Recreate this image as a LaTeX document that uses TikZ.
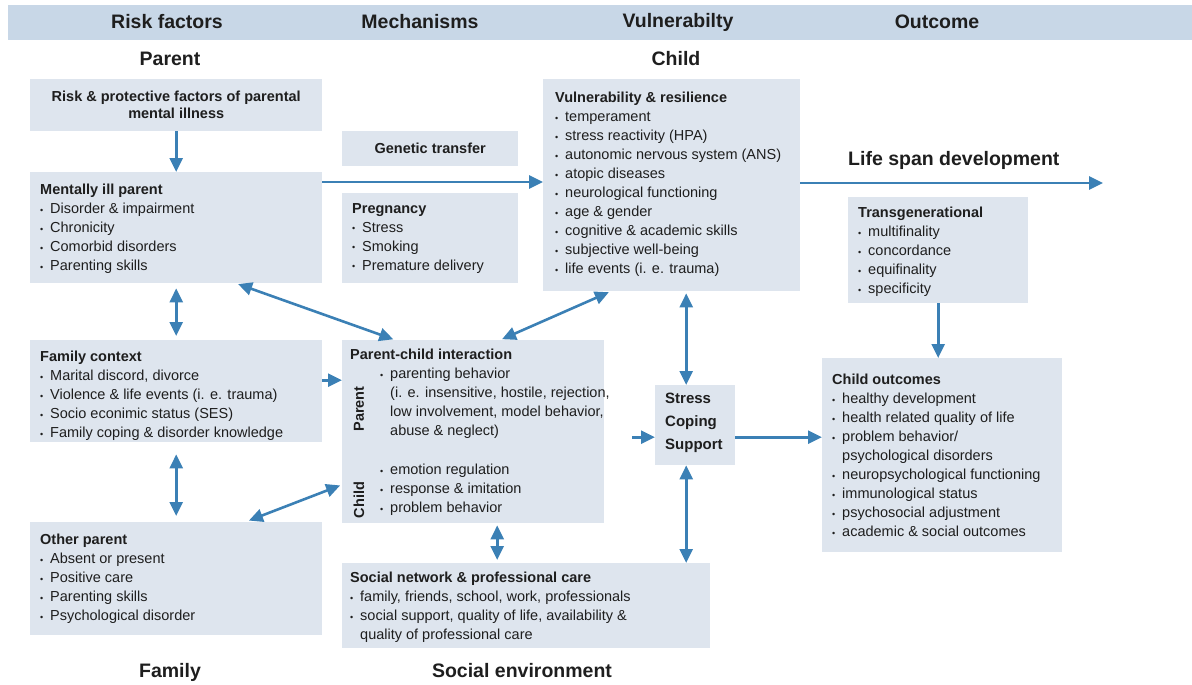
\documentclass[tikz,border=0pt]{standalone}
\usepackage{fontspec}
\setmainfont{Liberation Sans}
\usetikzlibrary{arrows.meta,calc}
\definecolor{hdrbar}{HTML}{C8D7E7}
\definecolor{boxfill}{HTML}{DEE5EE}
\definecolor{arrc}{HTML}{3B80B5}
\definecolor{txtc}{HTML}{1E1E1E}
\newcommand{\bul}{\makebox[10pt][l]{\raisebox{0.5pt}{\fontsize{9}{9}\selectfont •}}}
\newcommand{\ind}{\hspace*{10pt}}
\tikzset{
  box/.style={fill=boxfill, draw=none, inner sep=0pt, anchor=north west},
  txt/.style={anchor=north west, inner sep=0pt, align=left, text=txtc, font=\fontsize{14.5}{19}\selectfont},
  hdr/.style={font=\bfseries\fontsize{19.5}{22}\selectfont, text=txtc, inner sep=0pt},
  arr/.style={draw=arrc, line width=2.6pt, -{Triangle[length=14pt,width=13pt]}},
  darr/.style={draw=arrc, line width=2.6pt, {Triangle[length=14pt,width=13pt]}-{Triangle[length=14pt,width=13pt]}},
}
\begin{document}
\begin{tikzpicture}[x=1pt,y=-1pt]
\path[use as bounding box] (0,0) rectangle (1192,685);
% header bar
\fill[hdrbar] (8,5) rectangle (1192,40);
\node[hdr] (h1) at (167,22) {Risk factors};
\node[hdr] (h2) at (420,22) {Mechanisms};
\node[hdr] (h3) at (678,22) {Vulnerabilty};
\node[hdr] (h4) at (937,22) {Outcome};
\node[hdr] (sParent) at (170,59) {Parent};
\node[hdr] (sChild) at (676,59) {Child};
\node[hdr,anchor=base] (sFamily) at (170,677) {Family};
\node[hdr,anchor=base] (sSocial) at (522,677) {Social environment};

% boxes
\node[box, minimum width=292pt, minimum height=52pt] (risk) at (30,79) {};
\node[box, minimum width=176pt, minimum height=35pt] (gen) at (342,131) {};
\node[box, minimum width=292pt, minimum height=111pt] (mip) at (30,172) {};
\node[box, minimum width=176pt, minimum height=90pt] (preg) at (342,193) {};
\node[box, minimum width=257pt, minimum height=212pt] (vul) at (543,79) {};
\node[box, minimum width=180pt, minimum height=106pt] (trans) at (848,197) {};
\node[box, minimum width=292pt, minimum height=102pt] (fam) at (30,340) {};
\node[box, minimum width=262pt, minimum height=183pt] (pci) at (342,340) {};
\node[box, minimum width=80pt, minimum height=80pt] (stress) at (655,385) {};
\node[box, minimum width=240pt, minimum height=194pt] (chout) at (822,358) {};
\node[box, minimum width=292pt, minimum height=113pt] (oth) at (30,522) {};
\node[box, minimum width=368pt, minimum height=85pt] (soc) at (342,563) {};

% texts
\node[align=center, inner sep=0pt, text=txtc, font=\bfseries\fontsize{14.5}{17}\selectfont] (risk-t) at (risk.center) {Risk \& protective factors of parental\\mental illness};
\node[inner sep=0pt, text=txtc, font=\bfseries\fontsize{14.5}{17}\selectfont] (gen-t) at (gen.center) {Genetic transfer};
\node[txt] (mip-t) at (40,184) {\textbf{Mentally ill parent}\\\bul Disorder \& impairment\\\bul Chronicity\\\bul Comorbid disorders\\\bul Parenting skills};
\node[txt] (preg-t) at (352,203) {\textbf{Pregnancy}\\\bul Stress\\\bul Smoking\\\bul Premature delivery};
\node[txt] (vul-t) at (555,92) {\textbf{Vulnerability \& resilience}\\\bul temperament\\\bul stress reactivity (HPA)\\\bul autonomic nervous system (ANS)\\\bul atopic diseases\\\bul neurological functioning\\\bul age \& gender\\\bul cognitive \& academic skills\\\bul subjective well-being\\\bul life events (i. e. trauma)};
\node[txt] (trans-t) at (858,207) {\textbf{Transgenerational}\\\bul multifinality\\\bul concordance\\\bul equifinality\\\bul specificity};
\node[txt] (fam-t) at (40,351) {\textbf{Family context}\\\bul Marital discord, divorce\\\bul Violence \& life events (i. e. trauma)\\\bul Socio econimic status (SES)\\\bul Family coping \& disorder knowledge};
\node[txt] (oth-t) at (40,534) {\textbf{Other parent}\\\bul Absent or present\\\bul Positive care\\\bul Parenting skills\\\bul Psychological disorder};
\node[txt] (chout-t) at (832,374) {\textbf{Child outcomes}\\\bul healthy development\\\bul health related quality of life\\\bul problem behavior/\\\ind psychological disorders\\\bul neuropsychological functioning\\\bul immunological status\\\bul psychosocial adjustment\\\bul academic \& social outcomes};
\node[txt] (soc-t) at (350,572) {\textbf{Social network \& professional care}\\\bul family, friends, school, work, professionals\\\bul social support, quality of life, availability \&\\\ind quality of professional care};
\node[txt] (pci-t) at (350,349) {\textbf{Parent-child interaction}};
\node[txt] (pci-p) at (380,368) {\bul parenting behavior\\\ind (i. e. insensitive, hostile, rejection,\\\ind low involvement, model behavior,\\\ind abuse \& neglect)};
\node[txt] (pci-c) at (380,464) {\bul emotion regulation\\\bul response \& imitation\\\bul problem behavior};
\node[rotate=90, inner sep=0pt, text=txtc, font=\bfseries\fontsize{14.5}{17}\selectfont] (pl) at (359,409) {Parent};
\node[rotate=90, inner sep=0pt, text=txtc, font=\bfseries\fontsize{14.5}{17}\selectfont] (cl) at (359,500) {Child};
\node[anchor=north west, align=left, inner sep=0pt, text=txtc, font=\bfseries\fontsize{15}{23}\selectfont] (st) at (665,393) {Stress\\Coping\\Support};
\node[anchor=west, inner sep=0pt, text=txtc, font=\bfseries\fontsize{19.5}{22}\selectfont] (ls) at (848,160) {Life span development};

% connectors
\draw[arr] (risk.south) -- (mip.north);
\draw[darr, shorten <=5pt, shorten >=4pt] (mip.south) -- (fam.north);
\draw[darr, shorten <=12pt, shorten >=6pt] (fam.south) -- (oth.north);
\coordinate (mipr) at ([yshift=-10pt]mip.north east);
\draw[arr] (mipr) -- (mipr -| vul.west);
\draw[darr, shorten <=2pt, shorten >=2pt] ([xshift=60pt]mip.south) -- ([xshift=-78pt]pci.north);
\draw[darr, shorten <=2pt, shorten >=2pt] ([xshift=-61pt]vul.south) -- ([xshift=27pt]pci.north);
\coordinate (fa) at ([yshift=11pt]fam.east);
\draw[arr] (fa) -- (fa -| pci.west);
\draw[darr, shorten <=4pt, shorten >=2pt] ([xshift=69pt]oth.north) -- ([yshift=-53pt]pci.west);
\coordinate (pb) at ([xshift=24pt]pci.south);
\draw[darr, shorten <=2pt, shorten >=3pt] (pb) -- (pb |- soc.north);
\coordinate (sw) at ([yshift=-12pt]stress.west);
\coordinate (swo) at ([xshift=-23pt]sw);
\draw[arr] (swo) -- (sw);
\draw[arr] (sw -| stress.east) -- (sw -| chout.west);
\coordinate (vx) at ([xshift=-9pt]stress.north);
\draw[darr, shorten <=2pt] (vx |- vul.south) -- (vx);
\coordinate (vx2) at ([xshift=-9pt]stress.south);
\draw[darr] (vx2) -- (vx2 |- soc.north);
\draw[arr] (trans.south) -- (trans.south |- chout.north);
\coordinate (lsend) at (1103,183);
\draw[arr] (vul.east |- lsend) -- (lsend);
\end{tikzpicture}
\end{document}
